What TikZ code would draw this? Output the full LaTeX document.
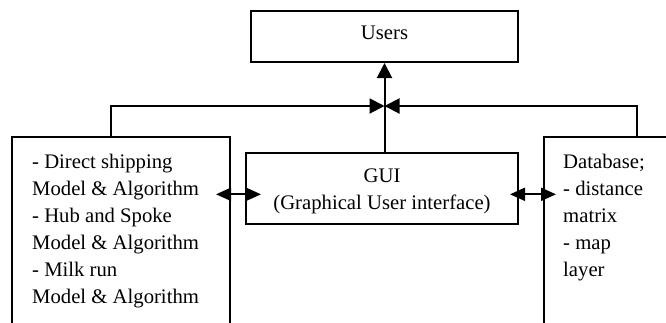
\documentclass[tikz,border=0pt]{standalone}
\usepackage{fontspec}
\setmainfont{Liberation Serif}
\usetikzlibrary{arrows.meta}
\begin{document}
\begin{tikzpicture}[x=1pt,y=-1pt,
  box/.style={draw, line width=2pt, inner sep=0pt},
  txt/.style={font=\fontsize{20.7}{27}\selectfont, inner sep=0pt},
  conn/.style={line width=2pt},
  tipend/.style={-{Triangle[length=15pt,width=15pt]}},
  tipboth/.style={{Triangle[length=15pt,width=13pt]}-{Triangle[length=15pt,width=13pt]}}]
\useasboundingbox (0,0) rectangle (666,322);
% boxes
\node[box, minimum width=267pt, minimum height=51pt] (users) at (384.5,36.5) {};
\node[box, minimum width=272pt, minimum height=71pt] (gui) at (382,188.8) {};
\node[box, minimum width=218.5pt, minimum height=203pt] (algo) at (120.75,238.5) {};
\node[box, minimum width=156pt, minimum height=203pt] (db) at (622,238.5) {};
% texts (base anchor = baseline of the last line)
\node[txt, anchor=base] (userstext) at (384.5,39.7) {Users};
\node[txt, anchor=base, align=center] (guitext) at (382,209.5) {GUI\\(Graphical User interface)};
\node[txt, anchor=base west, align=left] (algotext) at (32,303) {- Direct shipping\\Model \& Algorithm\\- Hub and Spoke\\Model \& Algorithm\\- Milk run\\Model \& Algorithm};
\node[txt, anchor=base west, align=left] (dbtext) at (563,276) {Database;\\- distance\\matrix\\- map\\layer};
% coordinates
\coordinate (hub) at (384.5,106);
\coordinate (lcorner) at (111.3,106);
\coordinate (rcorner) at (637,106);
\coordinate (ay) at (0,194.3);
% connectors
\draw[conn, tipend] (gui.north -| hub) -- (users.south -| hub);
\draw[conn, tipend] (algo.north -| lcorner) -- (lcorner) -- (hub);
\draw[conn, tipend] (db.north -| rcorner) -- (rcorner) -- (hub);
\draw[conn, tipboth, shorten <=-15pt, shorten >=-16pt] (algo.east |- ay) -- (gui.west |- ay);
\draw[conn, tipboth, shorten <=-9pt, shorten >=-13pt] (gui.east |- ay) -- (db.west |- ay);
\end{tikzpicture}
\end{document}
